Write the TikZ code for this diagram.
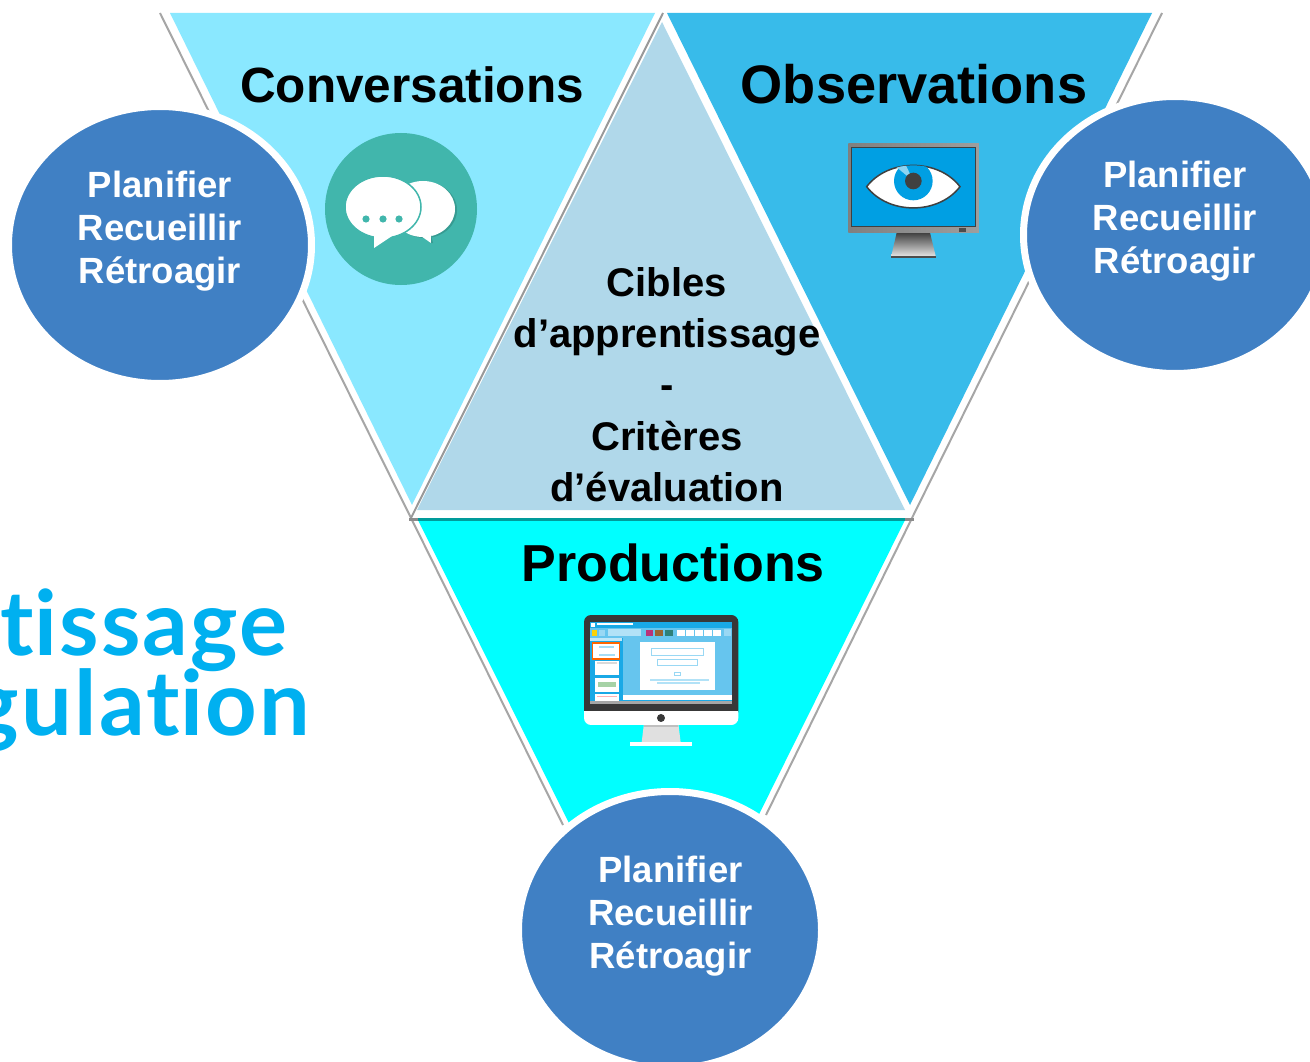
\documentclass[tikz,border=0pt]{standalone}
\usepackage{fontspec}
\setmainfont{Liberation Sans}
\newfontfamily\bigfam[LetterSpace=2.5]{Lato}
\usetikzlibrary{shapes.geometric}
\definecolor{conv}{HTML}{8AE8FF}
\definecolor{obs}{HTML}{38BBEA}
\definecolor{cible}{HTML}{B0D8EA}
\definecolor{prod}{HTML}{00FFFF}
\definecolor{blob}{HTML}{4080C4}
\definecolor{teal}{HTML}{41B6AC}
\definecolor{deep}{HTML}{009B9B}
\definecolor{bigtxt}{HTML}{00B0F0}
\definecolor{edge}{HTML}{A6A6A6}
\definecolor{scr}{HTML}{009FE3}
\tikzset{
  disc/.style={ellipse,fill=blob,draw=white,line width=7pt,minimum width=303pt,minimum height=277pt,inner sep=0pt},
  verb/.style={text=white,font=\fontsize{36.5}{36.5}\selectfont\bfseries,anchor=base},
  title/.style={text=black,anchor=base,font=\bfseries},
  cib/.style={text=black,anchor=base,font=\fontsize{40}{40}\selectfont\bfseries},
  big/.style={text=bigtxt,anchor=base east,font=\fontsize{90}{90}\selectfont\bigfam\bfseries,inner sep=0pt},
  rim/.style={draw=edge,line width=2pt}
}
\begin{document}
\begin{tikzpicture}[x=1pt,y=-1pt]
\useasboundingbox (0,0) rectangle (1310,1062);
\clip (0,0) rectangle (1310,1062);
\fill[white] (0,0) rectangle (1310,1062);
% outline strokes
\coordinate (tl) at (160,13);
\coordinate (tr) at (1162,13);
\coordinate (tm) at (663,13);
\coordinate (ml) at (411,518);
\coordinate (mr) at (912,518);
\coordinate (bl) at (563,825);
\coordinate (br) at (766,815);
\draw[rim] (tl) -- (ml) -- (bl);
\draw[rim] (tr) -- (mr) -- (br);
% triangles
\fill[conv] (170,13) -- (655,13) -- (412,505) -- cycle;
\fill[obs] (667,13) -- (1152,13) -- (910,505) -- cycle;
\draw[draw=black!40,line width=2pt] (tm) -- (ml);
\fill[cible] (662,22) -- (905,510) -- (417,510) -- cycle;
\fill[prod] (418,520) -- (905,520) -- (662,1010) -- cycle;
\draw[deep,line width=3pt] (418,519) -- (905,519);
\draw[black!45,line width=3pt] (409,519) -- (418,519);
\draw[black!45,line width=3pt] (905,519) -- (914,519);
% titles
\node[title,font=\fontsize{49.5}{49.5}\selectfont\bfseries] (tconv) at (412,103) {Conversations};
\node[title,font=\fontsize{54.2}{54.2}\selectfont\bfseries] (tobs) at (914,104) {Observations};
\node[title,font=\fontsize{52}{52}\selectfont\bfseries] (tprod) at (673,581) {Productions};
% central text
\node[cib] (c1) at (667,296) {Cibles};
\node[cib] (c2) at (667,347) {d’apprentissage};
\node[cib] (c3) at (667,398) {-};
\node[cib] (c4) at (667,450) {Critères};
\node[cib] (c5) at (667,501) {d’évaluation};
% side text
\node[big] (b1) at (288,655) {t\kern0pt issage};
\node[big] (b2) at (310,735) {gulat\kern0pt ion};
% discs
\node[disc] (dl) at (160,245) {};
\node[disc] (dr) at (1175,235) {};
\node[disc] (db) at (670,930) {};
\foreach \n/\x/\y in {a/160/197.5,b/1175/187.5,c/670.5/882.5}{
  \node[verb] (\n1) at (\x,\y) {Planifier};
  \node[verb] (\n2) at (\x,\y+43) {Recueillir};
  \node[verb] (\n3) at (\x,\y+86) {Rétroagir};
}
% chat icon
\fill[teal] (401,209) circle (76);
\fill[teal!85!black] (425,210) ellipse (32 and 28);
\fill[white] (423,209) ellipse (32 and 28);
\fill[white] (418,234) -- (431,243) -- (431,232) -- cycle;
\fill[teal!85!black] (431,235) -- (433,243) -- (431,243) -- cycle;
\fill[white,draw=teal,line width=1.5pt] (383,207) ellipse (38 and 31);
\fill[white] (374,232) -- (374,248) -- (392,236) -- cycle;
\foreach \x in {366,383,399}{\fill[teal] (\x,219) circle (3.6);}
% monitor icon
\begin{scope}[shift={(830,130)},scale=0.3333]
\shade[top color=black!75,bottom color=black!8] (200,308) -- (300,308) -- (318,382) -- (183,382) -- cycle;
\fill[black!70] (183,378) rectangle (318,383);
\shade[left color=black!50,right color=black!38] (55,42) rectangle (447,308);
\fill[scr,draw=black!75,line width=1.5pt] (65,52) rectangle (437,290);
\fill[black!70] (388,294) rectangle (408,305);
\fill[white,draw=black!75,line width=1.5pt] (110,170) .. controls (175,85) and (325,85) .. (390,170) .. controls (325,255) and (175,255) .. (110,170) -- cycle;
\begin{scope}
\clip (110,170) .. controls (175,85) and (325,85) .. (390,170) .. controls (325,255) and (175,255) .. (110,170) -- cycle;
\fill[scr] (250,153) circle (58);
\fill[scr!45!white] (250,153) -- (195,108) -- (225,100) -- cycle;
\end{scope}
\fill[black!75] (250,153) circle (25);
\end{scope}
% desktop icon
\begin{scope}[shift={(570,605)},scale=0.3333]
\fill[black!12] (222,355) -- (325,355) -- (332,412) -- (215,412) -- cycle;
\fill[black!25] (222,358) rectangle (325,366);
\fill[white] (180,412) rectangle (367,423);
\fill[white,rounded corners=7pt] (42,300) rectangle (505,360);
\fill[black!78,rounded corners=7pt] (42,30) rectangle (505,340);
\fill[white] (42,318) rectangle (505,342);
\fill[black!78] (273,339) circle (12);
\fill[scr!90!white] (60,50) rectangle (487,297);
\fill[white] (82,55) rectangle (188,60);
\fill[white] (64,54) rectangle (74,66);
\fill[scr!60!white] (60,68) rectangle (487,98);
\fill[yellow!70!orange] (66,74) rectangle (82,92);
\fill[white!60!scr] (86,74) rectangle (106,92);
\fill[white!70!scr] (115,72) rectangle (214,94);
\fill[red!65!blue!80!white] (227,74) rectangle (249,92);
\fill[brown!80!black] (256,74) rectangle (278,92);
\fill[teal!70!black] (286,74) rectangle (308,92);
\foreach \x in {322,349,376,403,430}{\fill[white] (\x,74) rectangle (\x+23,92);}
\fill[white!60!scr] (463,72) rectangle (483,94);
\fill[white!40!scr] (160,98) rectangle (487,270);
\fill[white!75!scr] (60,100) rectangle (155,108);
\fill[white,draw=orange!80!red,line width=1.2pt] (67,114) rectangle (148,162);
\fill[white] (74,168) rectangle (147,211);
\fill[white] (74,218) rectangle (147,261);
\fill[white] (74,267) rectangle (147,288);
\fill[black!15] (80,172) rectangle (140,178);
\fill[green!50!black!35] (84,232) rectangle (138,246);
\fill[red!30] (80,272) rectangle (140,276);
\fill[scr!35] (86,122) rectangle (132,130);
\fill[scr!35] (86,148) rectangle (136,152);
\fill[white] (210,112) rectangle (434,255);
\draw[scr!40,line width=0.9pt,fill=white] (245,130) rectangle (400,152);
\draw[scr!40,line width=0.9pt,fill=white] (263,162) rectangle (383,181);
\draw[scr!40,line width=0.9pt] (314,203) rectangle (332,212);
\fill[scr!30] (240,223) rectangle (416,228);
\fill[scr!30] (260,232) rectangle (390,237);
\fill[white] (160,271) rectangle (487,286);
\fill[black!35] (60,288) rectangle (487,297);
\end{scope}
\end{tikzpicture}
\end{document}
